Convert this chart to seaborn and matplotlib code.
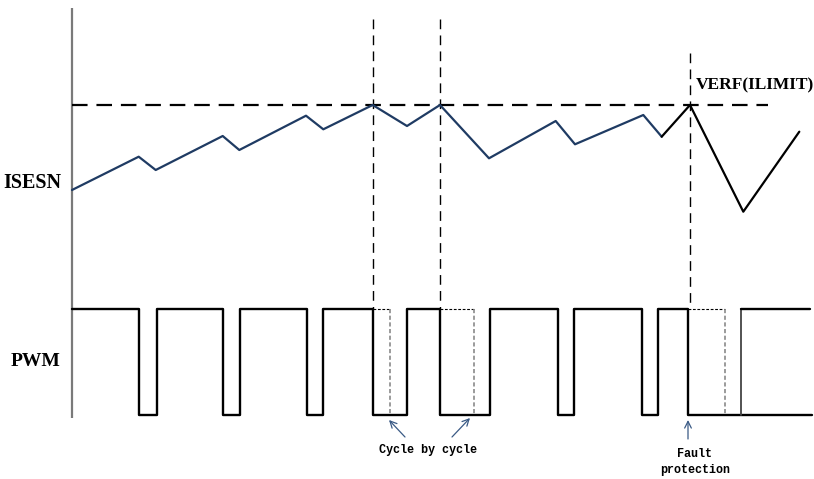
import matplotlib
matplotlib.use("Agg")
import matplotlib.pyplot as plt
import seaborn as sns
import pandas as pd

# ---------------- data (pixel-like units) ----------------
# sensed current ISESN: time / level (screen y grows downwards)
isesn_t = [72, 138.7, 155.7, 222.7, 239.3, 306, 323.3, 372.7, 407, 440, 489, 555.7, 575, 643.3, 661.7]
isesn_v = [190, 156.7, 170, 136, 150, 115.7, 129.3, 105, 126, 105, 158.3, 121, 144.3, 115, 136.7]
# current after the fault event
fault_t = [661.7, 690, 743.3, 799.3]
fault_v = [136.7, 105, 211.7, 131.7]
# reference level VERF(ILIMIT)
vref_level = 105
vref_start, vref_end = 72, 768
# PWM edges and states (1 = high, 0 = low)
pwm_t = [72, 139.3, 156.7, 223.3, 240, 306.7, 323.3, 373.3, 406.7, 440, 490, 557.7, 574.3, 641.7, 658.3, 688.3, 812]
pwm_state = [1, 0, 1, 0, 1, 0, 1, 0, 1, 0, 1, 0, 1, 0, 1, 0, 0]
pwm_high, pwm_low = 309, 415
# restored PWM after fault protection
restore_t = [741, 810]
# blanked (would-be) pulses, dotted
ghost_start = [373.3, 440, 688.3]
ghost_end = [390, 474, 725]
# event markers (vertical dashed lines)
event_t = [373, 440, 690]
event_top = [19, 19, 53]

# labels
lbl_isesn = "ISESN"
lbl_pwm = "PWM"
lbl_vref = "VERF(ILIMIT)"
lbl_cbc = "Cycle by cycle"
lbl_fault = "Fault\nprotection"

# ---------------- figure ----------------
sns.set_theme(style="white")
plt.rcParams["font.family"] = ["Liberation Serif", "DejaVu Serif"]
plt.rcParams["text.color"] = "black"

W, H = 814, 479
fig = plt.figure(figsize=(W / 100, H / 100), dpi=100)
ax = fig.add_axes([0, 0, 1, 1])
ax.set_xlim(0, W)
ax.set_ylim(H, 0)
ax.axis("off")

navy = "#1f3b63"
gray_axis = "#7a7a7a"
dot_gray = "#8a8a8a"

# left axis line
ax.plot([72, 72], [8, 418], color=gray_axis, lw=1.6, solid_capstyle="butt")

# reference dashed line
ax.plot([vref_start, vref_end], [vref_level, vref_level], color="black", lw=1.6,
        dashes=(7, 4))

# event vertical dashed lines
for t, top in zip(event_t, event_top):
    ax.plot([t, t], [top, pwm_high], color="black", lw=1.0, dashes=(7, 4.5))

# ISESN current
df_i = pd.DataFrame({"t": isesn_t, "v": isesn_v})
sns.lineplot(data=df_i, x="t", y="v", sort=False, estimator=None, color=navy,
             lw=1.6, ax=ax)
df_f = pd.DataFrame({"t": fault_t, "v": fault_v})
sns.lineplot(data=df_f, x="t", y="v", sort=False, estimator=None, color="black",
             lw=1.6, ax=ax)

# PWM
pwm_y = [pwm_low - s * (pwm_low - pwm_high) for s in pwm_state]
df_p = pd.DataFrame({"t": pwm_t, "y": pwm_y})
sns.lineplot(data=df_p, x="t", y="y", sort=False, estimator=None, color="black",
             lw=1.7, drawstyle="steps-post", ax=ax)

# restored PWM after fault
ax.plot([restore_t[0], restore_t[0]], [pwm_low, pwm_high], color="#444444", lw=1.3)
df_r = pd.DataFrame({"t": restore_t, "y": [pwm_high, pwm_high]})
sns.lineplot(data=df_r, x="t", y="y", sort=False, estimator=None, color="black",
             lw=1.7, ax=ax)

# blanked pulses (dotted)
for s, e in zip(ghost_start, ghost_end):
    ax.plot([s, e], [pwm_high, pwm_high], color="black", lw=0.8, dashes=(2.5, 1.5))
    ax.plot([e, e], [pwm_high, pwm_low], color=dot_gray, lw=1.2, dashes=(2.5, 1.5))

# arrows
arr = dict(arrowstyle="->", color="#3a5a85", lw=0.9, shrinkA=0, shrinkB=0)
ax.annotate("", xy=(389, 420), xytext=(405, 437), arrowprops=arr)
ax.annotate("", xy=(470, 418), xytext=(452, 437), arrowprops=arr)
ax.annotate("", xy=(688, 420), xytext=(688, 439), arrowprops=arr)

# texts
ax.text(61, 183, lbl_isesn, ha="right", va="center", fontsize=14.5, fontweight="bold",
        color="black")
ax.text(61, 362, lbl_pwm, ha="right", va="center", fontsize=14, fontweight="bold",
        color="black")
ax.text(696, 85, lbl_vref, ha="left", va="center", fontsize=12.5, fontweight="bold",
        color="black")
ax.text(428, 450, lbl_cbc, ha="center", va="center", fontsize=8.5, color="black",
        family=["Liberation Mono", "DejaVu Sans Mono"], fontweight="bold")
ax.text(695, 462, lbl_fault, ha="center", va="center", fontsize=8.5, linespacing=1.5,
        color="black", family=["Liberation Mono", "DejaVu Sans Mono"], fontweight="bold")

fig.savefig("out.png", dpi=100)
